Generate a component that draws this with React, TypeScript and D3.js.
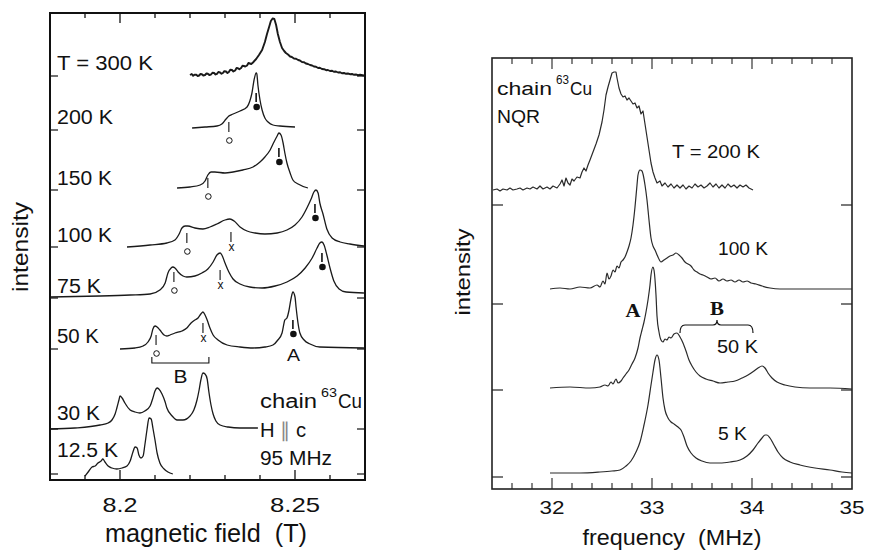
import React from "react";
import * as d3 from "d3";

type P = [number, number];

// ---------------- Left panel: chain 63Cu NMR, field sweep (T) ----------------
const fieldTicks = [8.19, 8.2, 8.21, 8.22, 8.23, 8.24, 8.25, 8.26];
const fieldMajor = [8.2, 8.25];
const fieldTickLabels = ["8.2", "8.25"];

const nmrLabels = ["T = 300 K", "200 K", "150 K", "100 K", "75 K", "50 K", "30 K", "12.5 K"];
const nmrOffsets = [40.4, 35.0, 29.0, 23.3, 18.2, 13.1, 5.1, 0.6];

const nmr300K: P[] = [
  [8.22, 0.1], [8.2205, 0.2], [8.2209, 0.02], [8.2213, 0.12], [8.2217, 0.14], [8.2222, 0.0], [8.2226, 0.05],
  [8.223, 0.2], [8.2234, 0.18], [8.2238, 0.05], [8.2243, 0.1], [8.2247, 0.25], [8.2251, 0.22], [8.2255, 0.1],
  [8.226, 0.15], [8.2264, 0.32], [8.2269, 0.3], [8.2273, 0.15], [8.2277, 0.22], [8.2281, 0.4], [8.2286, 0.35],
  [8.229, 0.22], [8.2294, 0.3], [8.2298, 0.48], [8.2303, 0.45], [8.2307, 0.3], [8.2311, 0.4], [8.2315, 0.62],
  [8.232, 0.6], [8.2324, 0.45], [8.2329, 0.55], [8.2333, 0.8], [8.2337, 0.78], [8.2341, 0.68], [8.2346, 0.8],
  [8.235, 1.02], [8.2354, 1.0], [8.2358, 0.95], [8.2363, 1.05], [8.2367, 1.3], [8.2371, 1.25], [8.2375, 1.2],
  [8.238, 1.35], [8.2389, 1.7], [8.2397, 2.1], [8.2406, 2.6], [8.2414, 3.4], [8.242, 4.2], [8.2426, 4.9],
  [8.2431, 5.5], [8.2436, 5.75], [8.2441, 5.7], [8.2446, 5.1], [8.2451, 4.2], [8.2457, 3.4], [8.2463, 2.8],
  [8.2469, 2.5], [8.2474, 2.3], [8.248, 2.15], [8.2486, 1.95], [8.2491, 1.9], [8.2497, 1.75], [8.2503, 1.72],
  [8.2509, 1.6], [8.2514, 1.55], [8.252, 1.4], [8.2526, 1.38], [8.2531, 1.25], [8.2537, 1.2], [8.2543, 1.1],
  [8.2549, 1.05], [8.2554, 0.95], [8.256, 0.92], [8.2566, 0.8], [8.2571, 0.82], [8.2577, 0.7], [8.2583, 0.68],
  [8.2589, 0.58], [8.2594, 0.6], [8.26, 0.5], [8.2606, 0.52], [8.2611, 0.42], [8.2617, 0.45], [8.2623, 0.35],
  [8.2629, 0.38], [8.2634, 0.28], [8.264, 0.3], [8.2646, 0.22], [8.2651, 0.25], [8.2657, 0.18], [8.2663, 0.2],
  [8.2669, 0.12], [8.2674, 0.15], [8.268, 0.08], [8.2686, 0.12], [8.2697, 0.05],
];
const nmr200K: P[] = [
  [8.2206, 0.2], [8.2243, 0.3], [8.2277, 0.4], [8.2291, 0.6], [8.2303, 1.1], [8.2311, 1.4], [8.2323, 1.6],
  [8.2343, 1.9], [8.2363, 2.3], [8.2371, 2.9], [8.2377, 3.7], [8.2383, 5.0], [8.2389, 5.7], [8.2391, 5.6],
  [8.2394, 4.5], [8.24, 3.0], [8.2406, 2.0], [8.2414, 1.2], [8.2423, 0.8], [8.2437, 0.5], [8.2457, 0.4], [8.25, 0.3],
];
const nmr150K: P[] = [
  [8.2163, 0.2], [8.22, 0.3], [8.2229, 0.5], [8.2243, 0.9], [8.2251, 1.5], [8.226, 1.8], [8.2271, 1.8],
  [8.23, 1.7], [8.2323, 1.8], [8.2351, 2.0], [8.238, 2.3], [8.24, 2.8], [8.2414, 3.3], [8.2429, 4.0],
  [8.244, 4.8], [8.2449, 5.4], [8.2454, 5.7], [8.246, 5.5], [8.2466, 4.7], [8.2471, 3.7], [8.2477, 2.7],
  [8.2486, 1.7], [8.2494, 1.0], [8.2509, 0.6], [8.2537, 0.2],
];
const nmr100K: P[] = [
  [8.202, 0.0], [8.2086, 0.2], [8.2134, 0.4], [8.2157, 0.7], [8.2169, 1.3], [8.2177, 1.9], [8.2186, 2.1],
  [8.2194, 2.1], [8.2214, 1.9], [8.2237, 1.8], [8.2257, 2.0], [8.2277, 2.3], [8.23, 2.7], [8.2314, 2.8],
  [8.2326, 2.6], [8.2343, 2.0], [8.2363, 1.6], [8.2386, 1.4], [8.2414, 1.3], [8.2449, 1.4], [8.2477, 1.7],
  [8.25, 2.2], [8.252, 3.0], [8.2534, 3.9], [8.2546, 4.8], [8.2554, 5.5], [8.256, 5.7], [8.2566, 5.4],
  [8.2571, 4.4], [8.258, 3.3], [8.2591, 1.8], [8.2606, 0.9], [8.2629, 0.5], [8.2657, 0.3], [8.2697, 0.1],
];
const nmr75K: P[] = [
  [8.18, 0.1], [8.1943, 0.2], [8.2029, 0.3], [8.2086, 0.4], [8.2114, 0.8], [8.2129, 1.5], [8.2137, 2.5],
  [8.2146, 3.0], [8.2151, 3.1], [8.2157, 3.0], [8.2166, 2.6], [8.218, 2.2], [8.2191, 2.1], [8.2214, 2.2],
  [8.2234, 2.5], [8.2251, 2.9], [8.2266, 3.6], [8.2277, 4.3], [8.2286, 4.5], [8.2291, 4.3], [8.23, 3.5],
  [8.2311, 2.6], [8.2323, 1.9], [8.2343, 1.4], [8.2371, 1.1], [8.2406, 1.0], [8.2443, 1.2], [8.2477, 1.6],
  [8.2506, 2.2], [8.2529, 3.0], [8.2549, 4.0], [8.2563, 5.0], [8.2571, 5.5], [8.2577, 5.6], [8.2583, 5.3],
  [8.2591, 4.3], [8.26, 3.0], [8.2611, 1.7], [8.2626, 0.9], [8.2646, 0.6], [8.2697, 0.5],
];
const nmr50K: P[] = [
  [8.2, 0.0], [8.2043, 0.1], [8.2066, 0.3], [8.208, 0.7], [8.2089, 1.3], [8.2094, 2.0], [8.21, 2.3],
  [8.2106, 2.2], [8.2114, 1.9], [8.2126, 1.4], [8.2134, 1.3], [8.2143, 1.4], [8.2157, 1.6], [8.2177, 1.8],
  [8.2191, 2.1], [8.2203, 2.6], [8.2214, 2.9], [8.2223, 3.1], [8.2231, 3.5], [8.2237, 3.7], [8.2243, 3.4],
  [8.2249, 2.9], [8.2257, 2.1], [8.2266, 1.4], [8.228, 0.9], [8.2306, 0.4], [8.2343, 0.2], [8.238, 0.1],
  [8.2414, 0.2], [8.2437, 0.4], [8.2451, 0.9], [8.2463, 1.6], [8.2471, 2.9], [8.2477, 3.1], [8.2483, 3.9],
  [8.2489, 5.1], [8.2494, 5.7], [8.25, 5.2], [8.2503, 4.2], [8.2509, 2.5], [8.2514, 1.6], [8.2526, 0.9],
  [8.2543, 0.5], [8.2571, 0.2], [8.2697, 0.1],
];
const nmr30K: P[] = [
  [8.18, 0.0], [8.1871, 0.1], [8.1943, 0.4], [8.1966, 0.6], [8.1977, 0.9], [8.1986, 1.5], [8.1991, 2.1],
  [8.1997, 2.9], [8.2, 3.3], [8.2006, 3.1], [8.2014, 2.6], [8.2029, 1.9], [8.2043, 1.7], [8.2057, 1.6],
  [8.2071, 1.8], [8.2086, 2.3], [8.2094, 3.1], [8.21, 3.8], [8.2106, 4.1], [8.2111, 4.0], [8.212, 3.5],
  [8.2129, 2.7], [8.2134, 2.1], [8.2149, 1.3], [8.2163, 0.9], [8.218, 0.9], [8.22, 1.3], [8.2211, 1.9],
  [8.222, 2.9], [8.2226, 3.9], [8.2231, 4.9], [8.2237, 5.6], [8.2243, 5.5], [8.2249, 5.0], [8.2254, 3.7],
  [8.226, 2.4], [8.2266, 1.5], [8.2274, 0.8], [8.2286, 0.4], [8.2309, 0.2], [8.2343, 0.1], [8.2394, 0.1],
];
const nmr12K: P[] = [
  [8.19, -0.2], [8.1909, 0.2], [8.192, 0.7], [8.1929, 0.8], [8.1937, 1.1], [8.1946, 1.3], [8.1951, 1.5],
  [8.1957, 1.2], [8.1966, 0.8], [8.1977, 0.6], [8.1991, 0.5], [8.2006, 0.6], [8.202, 0.8], [8.2029, 1.3],
  [8.2037, 2.2], [8.2043, 2.7], [8.2049, 2.6], [8.2054, 1.9], [8.206, 1.6], [8.2066, 1.8], [8.2071, 2.9],
  [8.2077, 4.4], [8.2083, 5.6], [8.2089, 5.5], [8.2094, 4.6], [8.21, 3.4], [8.2106, 2.1], [8.2114, 1.1],
  [8.2126, 0.5], [8.2137, 0.2], [8.2151, 0.0],
];
const nmrSpectra = [nmr300K, nmr200K, nmr150K, nmr100K, nmr75K, nmr50K, nmr30K, nmr12K];

// markers: [spectrum index, field, height of the tick top, kind]
const nmrMarkers: [number, number, number, string][] = [
  [1, 8.2311, 0.8, "o"], [1, 8.2389, 3.7, "dot"],
  [2, 8.2251, 1.2, "o"], [2, 8.2454, 4.2, "dot"],
  [3, 8.2191, 1.4, "o"], [3, 8.2317, 1.5, "x"], [3, 8.2557, 4.3, "dot"],
  [4, 8.2154, 2.6, "o"], [4, 8.2286, 2.8, "x"], [4, 8.2577, 4.5, "dot"],
  [5, 8.2103, 1.4, "o"], [5, 8.2237, 2.6, "x"], [5, 8.2494, 2.9, "dot"],
];
// bracket "B" under the 50 K trace: [from field, to field]
const nmrBracketB = [8.2091, 8.2254];

// ---------------- Right panel: chain 63Cu NQR (MHz) ----------------
const freqTicks = [31.6, 31.8, 32, 32.2, 32.4, 32.6, 32.8, 33, 33.2, 33.4, 33.6, 33.8, 34, 34.2, 34.4, 34.6, 34.8];
const freqMajor = [32, 33, 34];
const freqTickLabels = ["32", "33", "34", "35"];
const freqLabelValues = [32, 33, 34, 35];

const nqrLabels = ["T = 200 K", "100 K", "50 K", "5 K"];
const nqrOffsets = [28.4, 18.5, 9.9, 1.2];

const nqr200K: P[] = [
  [31.41, 1.5], [31.45, 1.6], [31.48, 1.4], [31.51, 1.6], [31.55, 1.5], [31.58, 1.7], [31.61, 1.5], [31.65, 1.6],
  [31.68, 1.7], [31.71, 1.5], [31.75, 1.7], [31.78, 1.6], [31.81, 1.8], [31.85, 1.6], [31.88, 1.9], [31.91, 1.6],
  [31.95, 1.8], [31.98, 1.6], [32.01, 1.9], [32.05, 1.7], [32.08, 2.1], [32.1, 2.5], [32.12, 1.9], [32.14, 2.7],
  [32.16, 2.2], [32.18, 2.0], [32.2, 2.6], [32.22, 2.4], [32.25, 2.8], [32.28, 2.7], [32.3, 3.3], [32.32, 3.7],
  [32.34, 3.4], [32.36, 4.0], [32.38, 4.5], [32.41, 5.3], [32.44, 6.1], [32.47, 7.0], [32.5, 8.3], [32.52, 9.5],
  [32.54, 11.0], [32.56, 11.8], [32.58, 12.5], [32.6, 13.2], [32.62, 13.3], [32.64, 13.3], [32.65, 12.7],
  [32.67, 11.7], [32.69, 11.1], [32.71, 10.8], [32.73, 10.9], [32.75, 10.5], [32.77, 10.7], [32.79, 10.4],
  [32.81, 10.1], [32.83, 10.2], [32.85, 9.7], [32.87, 9.9], [32.89, 9.1], [32.91, 9.4], [32.93, 8.1], [32.95, 6.8],
  [32.97, 5.5], [32.99, 4.2], [33.01, 3.3], [33.03, 2.7], [33.05, 2.2], [33.08, 2.4], [33.1, 1.9], [33.13, 2.2],
  [33.16, 1.8], [33.19, 2.1], [33.22, 1.7], [33.25, 2.0], [33.28, 1.7], [33.31, 2.0], [33.34, 1.6], [33.37, 1.9],
  [33.4, 1.7], [33.43, 2.1], [33.46, 1.8], [33.49, 2.0], [33.52, 1.7], [33.55, 1.9], [33.58, 2.2], [33.61, 1.8],
  [33.64, 2.1], [33.67, 1.7], [33.7, 2.0], [33.73, 1.7], [33.76, 2.1], [33.79, 1.8], [33.82, 2.0], [33.85, 1.7],
  [33.88, 2.0], [33.91, 1.8], [33.94, 2.0], [33.97, 1.7], [34.01, 1.5],
];
const nqr100K: P[] = [
  [31.98, 1.5], [32.08, 1.6], [32.18, 1.5], [32.28, 1.7], [32.38, 1.6], [32.45, 1.9], [32.48, 1.7], [32.51, 2.3],
  [32.53, 2.0], [32.55, 3.1], [32.57, 2.5], [32.59, 2.8], [32.61, 3.4], [32.63, 3.2], [32.65, 3.8], [32.67, 3.6],
  [32.69, 4.2], [32.71, 4.4], [32.73, 4.7], [32.75, 5.2], [32.77, 5.8], [32.79, 6.6], [32.81, 7.9], [32.83, 9.7],
  [32.85, 11.9], [32.86, 12.9], [32.88, 13.4], [32.9, 13.3], [32.91, 13.0], [32.93, 11.9], [32.95, 10.4],
  [32.97, 8.4], [32.99, 6.6], [33.01, 5.8], [33.03, 5.4], [33.06, 4.7], [33.09, 4.2], [33.12, 4.4], [33.15, 4.6],
  [33.18, 4.8], [33.21, 4.9], [33.24, 5.1], [33.27, 4.9], [33.3, 4.6], [33.33, 4.2], [33.36, 4.0], [33.39, 3.8],
  [33.42, 3.4], [33.45, 3.2], [33.48, 3.0], [33.51, 2.9], [33.55, 2.7], [33.59, 2.5], [33.63, 2.6], [33.67, 2.3],
  [33.71, 2.5], [33.75, 2.3], [33.79, 2.4], [33.83, 2.2], [33.87, 2.4], [33.91, 2.2], [33.95, 2.3], [33.99, 2.1],
  [34.04, 2.0], [34.1, 1.8], [34.18, 1.6], [34.28, 1.5], [34.48, 1.5], [34.78, 1.5], [35.0, 1.5],
];
const nqr50K: P[] = [
  [31.98, 0.2], [32.18, 0.3], [32.38, 0.2], [32.48, 0.3], [32.53, 0.5], [32.56, 0.4], [32.59, 0.8], [32.61, 0.6],
  [32.64, 1.1], [32.66, 0.7], [32.69, 0.9], [32.71, 1.2], [32.74, 1.6], [32.77, 2.0], [32.8, 2.6], [32.83, 3.2],
  [32.86, 4.2], [32.88, 5.2], [32.9, 6.0], [32.92, 6.8], [32.94, 7.8], [32.96, 9.0], [32.98, 10.5], [32.99, 11.5],
  [33.01, 12.3], [33.02, 12.0], [33.04, 9.5], [33.05, 7.4], [33.07, 5.8], [33.09, 5.0], [33.11, 4.8], [33.13, 5.1],
  [33.15, 5.0], [33.17, 5.3], [33.19, 5.2], [33.22, 5.6], [33.25, 5.7], [33.28, 5.3], [33.31, 4.7], [33.34, 3.9],
  [33.37, 3.0], [33.4, 2.4], [33.44, 1.8], [33.48, 1.4], [33.54, 1.1], [33.61, 0.9], [33.68, 0.7], [33.76, 0.8],
  [33.83, 0.9], [33.9, 1.2], [33.96, 1.5], [34.02, 1.9], [34.06, 2.2], [34.1, 2.4], [34.13, 2.2], [34.16, 1.7],
  [34.2, 1.2], [34.25, 0.8], [34.33, 0.5], [34.43, 0.3], [34.58, 0.2], [34.78, 0.2], [35.0, 0.1],
];
const nqr5K: P[] = [
  [31.98, 0.4], [32.28, 0.4], [32.48, 0.5], [32.6, 0.6], [32.68, 0.7], [32.74, 1.1], [32.79, 1.6], [32.84, 2.5],
  [32.88, 3.5], [32.92, 5.2], [32.96, 7.2], [32.99, 9.2], [33.01, 10.5], [33.03, 11.7], [33.05, 12.2], [33.07, 11.7],
  [33.09, 9.9], [33.11, 7.9], [33.13, 6.7], [33.16, 5.9], [33.19, 5.5], [33.22, 5.3], [33.26, 5.0], [33.29, 4.7],
  [33.32, 4.0], [33.35, 3.1], [33.39, 2.4], [33.44, 1.9], [33.5, 1.6], [33.58, 1.4], [33.68, 1.4], [33.78, 1.5],
  [33.88, 1.7], [33.95, 2.1], [34.01, 2.7], [34.06, 3.4], [34.1, 3.9], [34.13, 4.2], [34.15, 4.2], [34.18, 3.9],
  [34.22, 3.2], [34.26, 2.5], [34.31, 1.9], [34.38, 1.5], [34.48, 1.2], [34.63, 0.9], [34.78, 0.7], [34.9, 0.5],
  [35.0, 0.4],
];
const nqrSpectra = [nqr200K, nqr100K, nqr50K, nqr5K];
// brace "B" over the 50 K trace: [left, cusp, right] in MHz
const nqrBraceB = [33.28, 33.65, 34.01];

// ---------------- layout ----------------
const FONT = "'Liberation Sans', Arial, Helvetica, sans-serif";
const SERIF = "'Liberation Serif', 'Times New Roman', serif";

const xL = d3.scaleLinear().domain([8.18, 8.27]).range([50, 365]);
const yL = d3.scaleLinear().domain([0, 46.7]).range([480, 13]);
const xR = d3.scaleLinear().domain([31.4, 35]).range([492, 852]);
const yR = d3.scaleLinear().domain([0, 43.1]).range([489, 58]);

const nmrLabelLift = [6, 6, 5, 5, 5, 6, 9, 17];
const nmrLabelW = [96, 56, 55, 55, 44, 42, 43, 61];
const nqrLabelPos: [number, number, number][] = [[672, 158, 88], [718, 255, 50], [717, 353, 41], [718, 440, 29]];

function Txt(props: {
  x: number; y: number; size: number; w?: number; anchor?: string; weight?: string | number;
  family?: string; fill?: string; children: React.ReactNode; transform?: string;
}) {
  const { x, y, size, w, anchor, weight, family, fill, children, transform } = props;
  return (
    <text
      x={x}
      y={y}
      fontSize={size}
      fontFamily={family || FONT}
      fontWeight={weight || "normal"}
      textAnchor={anchor || "start"}
      fill={fill || "#111"}
      textLength={w}
      lengthAdjust={w ? "spacingAndGlyphs" : undefined}
      transform={transform}
      style={{ whiteSpace: "pre" }}
    >
      {children}
    </text>
  );
}

export default function App() {
  const lineNMR = (pts: P[], off: number, smooth: boolean) =>
    d3
      .line<P>()
      .x((d) => xL(d[0]))
      .y((d) => yL(off + d[1]))
      .curve(smooth ? d3.curveMonotoneX : d3.curveLinear)(pts) || "";
  const lineNQR = (pts: P[], off: number, smooth: boolean) =>
    d3
      .line<P>()
      .x((d) => xR(d[0]))
      .y((d) => yR(off + d[1]))
      .curve(smooth ? d3.curveMonotoneX : d3.curveLinear)(pts) || "";

  const Lx0 = xL.range()[0], Lx1 = xL.range()[1];
  const Ly0 = yL.range()[1], Ly1 = yL.range()[0];
  const Rx0 = xR.range()[0], Rx1 = xR.range()[1];
  const Ry0 = yR.range()[1], Ry1 = yR.range()[0];

  const bY = yL(nmrOffsets[5] - 1.4);
  const bxA = xL(nmrBracketB[0]);
  const bxB = xL(nmrBracketB[1]);

  const brY0 = yR(nqrOffsets[2] + 5.7);
  const brY1 = yR(nqrOffsets[2] + 6.5);
  const brY2 = yR(nqrOffsets[2] + 7.0);
  const [bl, bc, br] = nqrBraceB.map((v) => xR(v));
  const bracePath =
    `M${bl},${brY0} Q${bl},${brY1} ${bl + 5},${brY1} L${bc - 4},${brY1} Q${bc},${brY1} ${bc},${brY2} ` +
    `Q${bc},${brY1} ${bc + 4},${brY1} L${br - 5},${brY1} Q${br},${brY1} ${br},${brY0}`;

  return (
    <svg
      width={869}
      height={559}
      viewBox="0 0 869 559"
      style={{ position: "absolute", left: 0, top: 0, background: "#fff" }}
    >
      <rect x={0} y={0} width={869} height={559} fill="#fff" />

      {/* ================= LEFT PANEL ================= */}
      <g>
        {nmrSpectra.map((s, i) => (
          <path
            key={"nmr" + i}
            d={lineNMR(s, nmrOffsets[i], i !== 0)}
            fill="none"
            stroke="#1a1a1a"
            strokeWidth={i === 0 ? 1.9 : 1.3}
            strokeLinejoin="round"
          />
        ))}
        {nmrOffsets.map((o, i) => (
          <g key={"lyt" + i}>
            <line x1={Lx0} x2={Lx0 + 8} y1={yL(o)} y2={yL(o)} stroke="#111" strokeWidth={1.2} />
            <line x1={Lx1 - 8} x2={Lx1} y1={yL(o)} y2={yL(o)} stroke="#111" strokeWidth={1.2} />
          </g>
        ))}
        {fieldTicks.map((t, i) => {
          const len = fieldMajor.includes(t) ? 10 : 5;
          return (
            <g key={"lxt" + i}>
              <line x1={xL(t)} x2={xL(t)} y1={Ly0} y2={Ly0 + len} stroke="#111" strokeWidth={1.3} />
              <line x1={xL(t)} x2={xL(t)} y1={Ly1} y2={Ly1 - len} stroke="#111" strokeWidth={1.3} />
            </g>
          );
        })}
        <rect x={Lx0} y={Ly0} width={Lx1 - Lx0} height={Ly1 - Ly0} fill="none" stroke="#111" strokeWidth={2} />

        {nmrMarkers.map((m, i) => {
          const [si, fx, top, kind] = m;
          const x = xL(fx);
          const y0 = yL(nmrOffsets[si] + top);
          return (
            <g key={"mk" + i}>
              <line x1={x} x2={x} y1={y0} y2={y0 + (kind === "dot" ? 9 : 10)} stroke="#111" strokeWidth={kind === "dot" ? 1.6 : 1.1} />
              {kind === "o" && <circle cx={x + 0.5} cy={y0 + 18.5} r={2.8} fill="none" stroke="#111" strokeWidth={1} />}
              {kind === "dot" && <circle cx={x + 0.5} cy={y0 + 14} r={3.3} fill="#111" />}
              {kind === "x" && (
                <Txt x={x + 0.5} y={y0 + 19} size={12} anchor="middle">
                  x
                </Txt>
              )}
            </g>
          );
        })}
        <path d={`M${bxA},${bY - 6} L${bxA},${bY} L${bxB},${bY} L${bxB},${bY - 6}`} fill="none" stroke="#111" strokeWidth={1.1} />
        <Txt x={(bxA + bxB) / 2} y={bY + 20} size={19} anchor="middle" w={14}>
          B
        </Txt>
        <Txt x={xL(nmrMarkers[12][1]) + 0.5} y={361} size={17} anchor="middle" w={13}>
          A
        </Txt>

        {nmrLabels.map((l, i) => (
          <Txt key={"nl" + i} x={57} y={yL(nmrOffsets[i]) - nmrLabelLift[i]} size={19.5} w={nmrLabelW[i]}>
            {l}
          </Txt>
        ))}

        <Txt x={260} y={408} size={20} w={57}>chain</Txt>
        <Txt x={321} y={397} size={13} w={16}>63</Txt>
        <Txt x={338} y={408} size={20} w={24}>Cu</Txt>
        <text x={260} y={437} fontSize={20} fontFamily={FONT} fill="#111" textLength={46} lengthAdjust="spacingAndGlyphs">
          H <tspan fill="#888">∥</tspan> c
        </text>
        <Txt x={260} y={465} size={20} w={72}>95 MHz</Txt>

        {fieldMajor.map((t, i) => (
          <Txt key={"fl" + i} x={xL(t)} y={512} size={21} anchor="middle" w={i === 0 ? 35 : 50}>
            {fieldTickLabels[i]}
          </Txt>
        ))}
        <Txt x={206} y={542} size={25} anchor="middle" w={202}>
          {"magnetic field\u00a0\u00a0(T)"}
        </Txt>
        <Txt x={0} y={0} size={22} anchor="middle" w={90} transform="translate(28,247) rotate(-90)">
          intensity
        </Txt>
      </g>

      {/* ================= RIGHT PANEL ================= */}
      <g>
        {nqrSpectra.map((s, i) => (
          <path
            key={"nqr" + i}
            d={lineNQR(s, nqrOffsets[i], i !== 0)}
            fill="none"
            stroke="#2a2a2a"
            strokeWidth={1.2}
            strokeLinejoin="round"
          />
        ))}
        {nqrOffsets.map((o, i) => (
          <g key={"ryt" + i}>
            <line x1={Rx0} x2={Rx0 + 11} y1={yR(o)} y2={yR(o)} stroke="#222" strokeWidth={1.2} />
            <line x1={Rx1 - 11} x2={Rx1} y1={yR(o)} y2={yR(o)} stroke="#222" strokeWidth={1.2} />
          </g>
        ))}
        {freqTicks.map((t, i) => {
          const len = freqMajor.includes(t) ? 11 : 6;
          return (
            <g key={"rxt" + i}>
              <line x1={xR(t)} x2={xR(t)} y1={Ry0} y2={Ry0 + len} stroke="#222" strokeWidth={1.1} />
              <line x1={xR(t)} x2={xR(t)} y1={Ry1} y2={Ry1 - len} stroke="#222" strokeWidth={1.1} />
            </g>
          );
        })}
        <rect x={Rx0} y={Ry0} width={Rx1 - Rx0} height={Ry1 - Ry0} fill="none" stroke="#222" strokeWidth={1.6} />

        {nqrLabels.map((l, i) => (
          <Txt key={"ql" + i} x={nqrLabelPos[i][0]} y={nqrLabelPos[i][1]} size={18} w={nqrLabelPos[i][2]}>
            {l}
          </Txt>
        ))}
        <Txt x={497} y={95} size={18} w={55}>chain</Txt>
        <Txt x={556} y={84} size={12} w={13}>63</Txt>
        <Txt x={570} y={95} size={18} w={22}>Cu</Txt>
        <Txt x={497} y={123} size={18} w={43}>NQR</Txt>

        <Txt x={633} y={317} size={19} anchor="middle" weight="bold" family={SERIF} w={15}>
          A
        </Txt>
        <Txt x={bc} y={315} size={19} anchor="middle" weight="bold" family={SERIF} w={14}>
          B
        </Txt>
        <path d={bracePath} fill="none" stroke="#111" strokeWidth={1.2} />

        {freqLabelValues.map((v, i) => (
          <Txt key={"ql2" + i} x={xR(v)} y={514} size={18} anchor="middle" w={25}>
            {freqTickLabels[i]}
          </Txt>
        ))}
        <Txt x={672} y={545} size={22} anchor="middle" w={179}>
          {"frequency\u00a0\u00a0(MHz)"}
        </Txt>
        <Txt x={0} y={0} size={20} anchor="middle" w={87} transform="translate(470,272) rotate(-90)">
          intensity
        </Txt>
      </g>
    </svg>
  );
}
